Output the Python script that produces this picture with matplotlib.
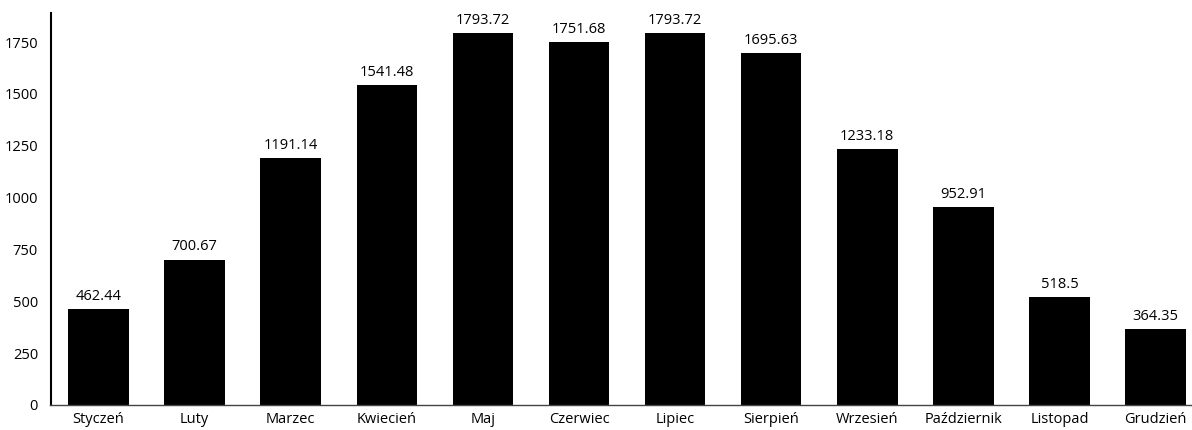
import matplotlib
matplotlib.use("Agg")
import matplotlib.pyplot as plt

months = ["Styczeń", "Luty", "Marzec", "Kwiecień", "Maj", "Czerwiec", "Lipiec",
          "Sierpień", "Wrzesień", "Październik", "Listopad", "Grudzień"]
values = [462.44, 700.67, 1191.14, 1541.48, 1793.72, 1751.68, 1793.72,
          1695.63, 1233.18, 952.91, 518.5, 364.35]
labels = ["462.44", "700.67", "1191.14", "1541.48", "1793.72", "1751.68", "1793.72",
          "1695.63", "1233.18", "952.91", "518.5", "364.35"]
yticks = [0, 250, 500, 750, 1000, 1250, 1500, 1750]

plt.rcParams['font.family'] = ['Open Sans', 'DejaVu Sans']

fig = plt.figure(figsize=(11.92, 4.30), dpi=100)
ax = fig.add_axes([50.5 / 1192, 25 / 430, (1203.6 - 50.5) / 1192, 392 / 430])

x = list(range(len(months)))
bars = ax.bar(x, values, width=0.63, color="black")
for xi, v, lab in zip(x, values, labels):
    ax.text(xi, v + 25, lab, ha="center", va="bottom", fontsize=10.5, color="black")

ax.set_xlim(-0.5, 11.5)
ax.set_ylim(0, 1890)
ax.set_yticks(yticks)
ax.set_yticklabels([str(t) for t in yticks], fontsize=10.5)
ax.set_xticks(x)
ax.set_xticklabels(months, fontsize=10.5)
ax.tick_params(axis="both", length=0, pad=5)
ax.tick_params(axis="y", pad=9)
for s in ["top", "right"]:
    ax.spines[s].set_visible(False)
ax.spines["left"].set_linewidth(1.5)
ax.spines["bottom"].set_linewidth(1.0)
ax.spines["bottom"].set_color("#444444")

fig.savefig("out.png", dpi=100)
